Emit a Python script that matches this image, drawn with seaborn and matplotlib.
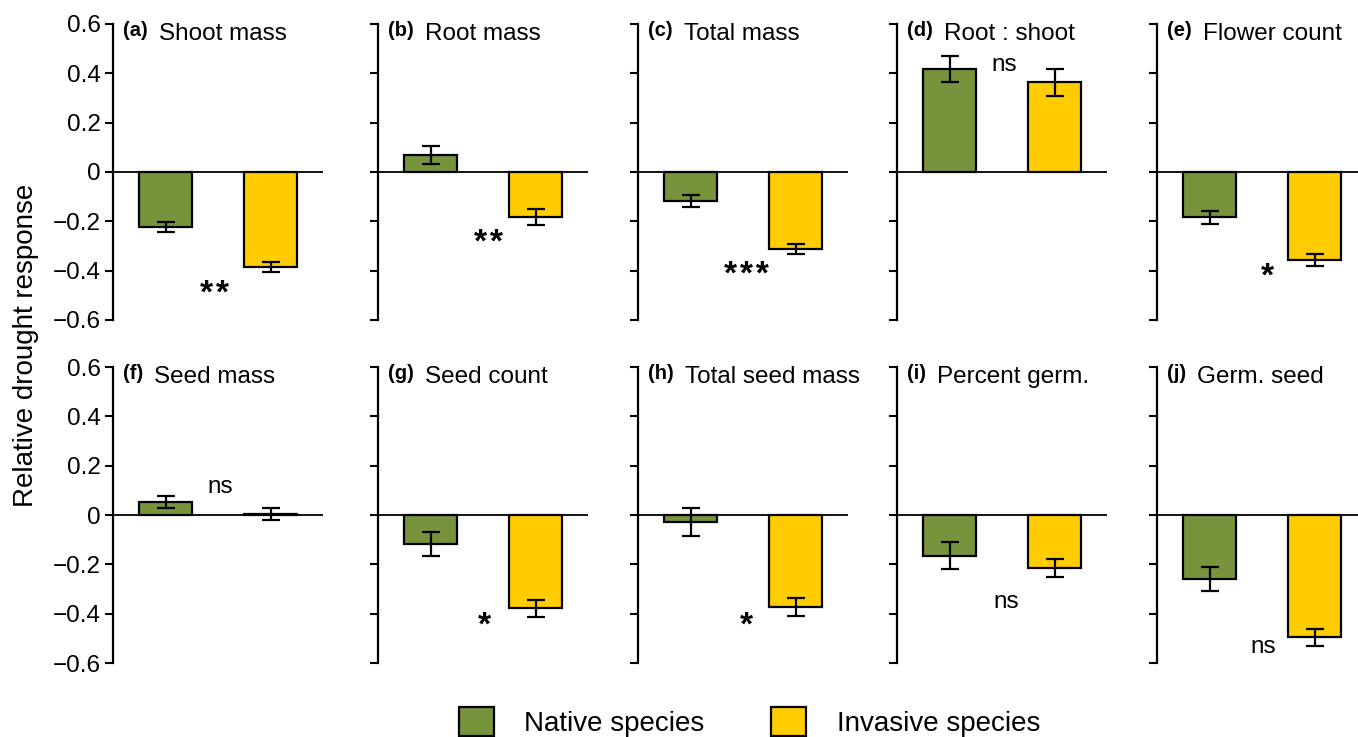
import matplotlib
matplotlib.use("Agg")
import matplotlib.pyplot as plt
from matplotlib.patches import Patch
import seaborn as sns
import pandas as pd

# Panel content
panel_letters = ["(a)", "(b)", "(c)", "(d)", "(e)", "(f)", "(g)", "(h)", "(i)", "(j)"]
panel_titles = ["Shoot mass", "Root mass", "Total mass", "Root : shoot", "Flower count",
                "Seed mass", "Seed count", "Total seed mass", "Percent germ.", "Germ. seed"]
groups = ["Native species", "Invasive species"]

native_mean = [-0.222, 0.069, -0.118, 0.418, -0.184, 0.054, -0.118, -0.030, -0.165, -0.261]
native_se = [0.020, 0.035, 0.024, 0.053, 0.026, 0.024, 0.050, 0.057, 0.055, 0.049]
invasive_mean = [-0.384, -0.181, -0.313, 0.364, -0.357, 0.005, -0.378, -0.372, -0.215, -0.496]
invasive_se = [0.020, 0.032, 0.020, 0.055, 0.024, 0.025, 0.035, 0.037, 0.038, 0.034]

# Significance labels and where they sit (category position, response value)
sig_labels = ["**", "**", "***", "ns", "*", "ns", "*", "*", "ns", "ns"]
sig_x = [0.47, 0.55, 0.53, 0.52, 0.55, 0.52, 0.51, 0.53, 0.545, 0.51]
sig_y = [-0.47, -0.266, -0.393, 0.432, -0.399, 0.112, -0.426, -0.423, -0.354, -0.536]

yticks = [0.6, 0.4, 0.2, 0.0, -0.2, -0.4, -0.6]
ytick_labels = ["0.6", "0.4", "0.2", "0", "\u22120.2", "\u22120.4", "\u22120.6"]

colors = {"Native species": "#77933C", "Invasive species": "#FFCC00"}

sns.set_style("white")
plt.rcParams["font.family"] = ["Liberation Sans", "DejaVu Sans"]
plt.rcParams["text.color"] = "black"
plt.rcParams["ytick.color"] = "black"
plt.rcParams["axes.labelcolor"] = "black"

W, H = 1358, 737
fig = plt.figure(figsize=(W / 100, H / 100), dpi=100)

col_left = [113, 378, 638, 897, 1157]
row_top = [24, 367]
ax_w, ax_h = 210, 296

for i in range(10):
    r, c = divmod(i, 5)
    ax = fig.add_axes([col_left[c] / W, 1 - (row_top[r] + ax_h) / H, ax_w / W, ax_h / H])
    df = pd.DataFrame({
        "group": groups,
        "mean": [native_mean[i], invasive_mean[i]],
        "se": [native_se[i], invasive_se[i]],
    })
    sns.barplot(data=df, x="group", y="mean", hue="group", order=groups,
                palette=colors, saturation=1, width=0.5, edgecolor="black",
                linewidth=1.6, legend=False, ax=ax, zorder=2)
    ax.errorbar([0, 1], df["mean"], yerr=df["se"], fmt="none", ecolor="black",
                elinewidth=1.6, capsize=6.5, capthick=1.6, zorder=3)
    ax.axhline(0, color="black", lw=1.3, zorder=4)

    ax.set_xlim(-0.5, 1.5)
    ax.set_ylim(-0.6, 0.6)
    ax.set_xlabel("")
    ax.set_ylabel("")
    ax.set_xticks([])
    ax.set_yticks(yticks)
    if c == 0:
        ax.set_yticklabels(ytick_labels, fontsize=17.5, color="black")
    else:
        ax.set_yticklabels([])
    ax.tick_params(axis="y", direction="out", length=6, width=1.5, pad=3, left=True,
                   color="black")
    for s in ["top", "right", "bottom"]:
        ax.spines[s].set_visible(False)
    ax.spines["left"].set_linewidth(1.6)
    ax.spines["left"].set_color("black")
    ax.set_facecolor("none")

    # Panel heading: bold letter followed by the trait name
    lt = ax.text(-0.405, 0.553, panel_letters[i], fontsize=14.5, fontweight="bold",
                 ha="left", va="baseline", color="black")
    ax.annotate(panel_titles[i], xy=(1, 0), xycoords=lt, xytext=(8.0, 0),
                textcoords="offset points", fontsize=17.5, ha="left", va="baseline",
                color="black")

    # Significance marker
    lab = sig_labels[i]
    if lab.startswith("*"):
        ax.annotate("\u200a".join(lab), xy=(sig_x[i], sig_y[i]),
                    xytext=(0, -4.5), textcoords="offset points", fontsize=24,
                    fontweight="bold", ha="center", va="center", color="black")
    else:
        ax.text(sig_x[i], sig_y[i], lab, fontsize=17.5, ha="center", va="center",
                color="black")

fig.text(26 / W, 1 - 345 / H, "Relative drought response", rotation=90,
         fontsize=20, ha="center", va="center", color="black")

handles = [Patch(facecolor=colors[g], edgecolor="black", linewidth=1.6, label=g) for g in groups]
fig.legend(handles=handles, loc="center", bbox_to_anchor=(0.552, 1 - 722 / H),
           ncol=2, frameon=False, fontsize=20, handlelength=1.25, handleheight=1.25,
           handletextpad=1.1, columnspacing=2.4, borderpad=0)

fig.savefig("out.png", dpi=100)
